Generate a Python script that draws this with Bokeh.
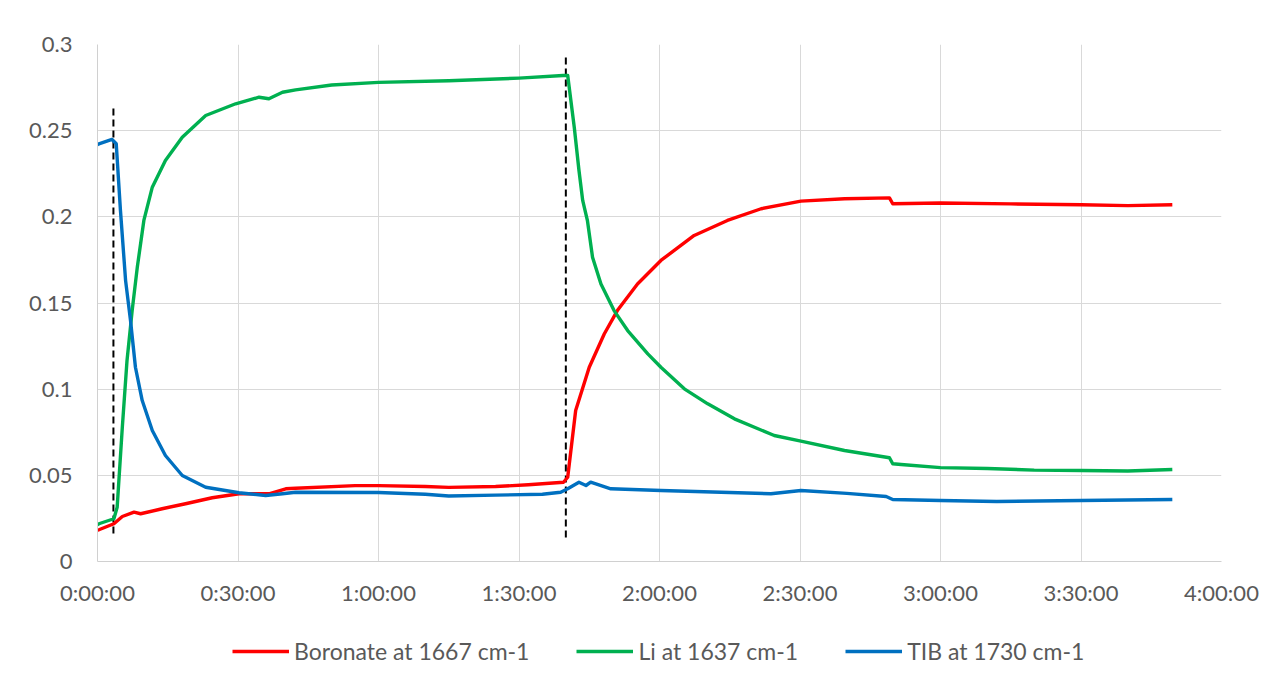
from bokeh.plotting import figure
from bokeh.layouts import column
from bokeh.models import FixedTicker, Legend, LegendItem, Range1d
from bokeh.embed import file_html
from bokeh.resources import INLINE

# ---- data (time in minutes) ----
boronate_t = [0, 0.3, 3.5, 5.3, 7.8, 9.2, 13.8, 18.8, 24.5, 30.2, 36.6, 40.2, 42.3, 55, 60,
              70, 75, 85, 92, 99.5, 100.4, 102.1, 105.0, 108.2, 111.0, 115.3, 120.3,
              127.4, 134.5, 141.7, 150.2, 159.5, 169.1, 169.8, 180, 195, 210, 220, 229.5]
boronate_v = [0.0182, 0.0184, 0.0219, 0.0261, 0.0286, 0.0277, 0.0306, 0.0335, 0.037, 0.0393,
              0.0393, 0.0422, 0.0425, 0.044, 0.044, 0.0435, 0.043, 0.0435, 0.0445, 0.046,
              0.0489, 0.0876, 0.1127, 0.132, 0.1456, 0.161, 0.1747, 0.1892, 0.1979, 0.2047,
              0.2091, 0.2105, 0.211, 0.2076, 0.208, 0.2075, 0.207, 0.2065, 0.207]

li_t = [0, 0.3, 3.5, 4.2, 5.3, 6.3, 7.4, 8.5, 9.9, 11.7, 14.5, 18.1, 23.1, 29.5, 34.5,
        36.6, 39.5, 42.3, 50, 60, 75, 90, 99.4, 100.4, 101.8, 102.8, 103.6, 104.6,
        105.7, 107.5, 110.3, 113.2, 117.5, 120.3, 125.3, 130.3, 136.0, 144.5, 150.2,
        159.5, 169.1, 169.8, 171.6, 180, 190, 200, 210, 220, 229.5]
li_v = [0.0212, 0.0219, 0.0248, 0.0315, 0.0779, 0.1166, 0.1456, 0.1708, 0.1979, 0.2172,
        0.2327, 0.2462, 0.2588, 0.2656, 0.2694, 0.2685, 0.2723, 0.2737, 0.2765, 0.278,
        0.279, 0.2805, 0.282, 0.282, 0.252, 0.227, 0.2095, 0.198, 0.1766, 0.161, 0.1456,
        0.134, 0.1205, 0.1127, 0.1002, 0.0915, 0.0828, 0.0731, 0.0698, 0.0644, 0.0602,
        0.0567, 0.0563, 0.0545, 0.054, 0.053, 0.0528, 0.0525, 0.0534]

tib_t = [0, 0.3, 3.1, 4.0, 4.9, 6.0, 7.05, 8.1, 9.55, 11.7, 14.5, 18.1, 23.1, 30.2, 35.9,
         39.5, 42.3, 60, 70, 75, 85, 95, 98.9, 100.4, 102.8, 104.3, 105.3, 109.6, 120.3,
         143.8, 150.2, 160, 168.4, 169.8, 180, 192, 210, 229.5]
tib_v = [0.2418, 0.2424, 0.2449, 0.2424, 0.2037, 0.163, 0.1398, 0.1127, 0.0934, 0.076,
         0.0615, 0.0499, 0.0431, 0.0399, 0.0383, 0.0393, 0.0402, 0.040, 0.039, 0.038,
         0.0385, 0.039, 0.0402, 0.0422, 0.046, 0.0441, 0.046, 0.0422, 0.0412, 0.0393,
         0.0412, 0.0395, 0.0377, 0.036, 0.0354, 0.0348, 0.0354, 0.036]

dash_x = [3.4, 100]
dash_y0 = [0.0162, 0.0139]
dash_y1 = [0.2646, 0.2948]

x_ticks = [0, 30, 60, 90, 120, 150, 180, 210, 240]
x_tick_labels = ["0:00:00", "0:30:00", "1:00:00", "1:30:00", "2:00:00",
                 "2:30:00", "3:00:00", "3:30:00", "4:00:00"]
y_ticks = [0, 0.05, 0.1, 0.15, 0.2, 0.25, 0.3]
y_tick_labels = ["0", "0.05", "0.1", "0.15", "0.2", "0.25", "0.3"]

series_names = ["Boronate at 1667 cm-1", "Li at 1637 cm-1", "TIB at 1730 cm-1"]
series_colors = ["#FF0000", "#00B050", "#0070C0"]
series_data = [(boronate_t, boronate_v), (li_t, li_v), (tib_t, tib_v)]

FONT = "Lato"
GREY = "#595959"

# ---- main chart ----
p = figure(width=1266, height=610, output_backend="svg", toolbar_location=None,
           x_range=Range1d(0, 240), y_range=Range1d(0, 0.3),
           min_border_left=97, min_border_right=45, min_border_top=44,
           min_border_bottom=49)
p.outline_line_color = None
p.background_fill_color = "white"
p.border_fill_color = "white"

for ax, ticks, labels in ((p.xaxis, x_ticks, x_tick_labels), (p.yaxis, y_ticks, y_tick_labels)):
    ax.ticker = FixedTicker(ticks=ticks)
    ax.major_label_overrides = {t: l for t, l in zip(ticks, labels)}
    ax.major_tick_line_color = None
    ax.minor_tick_line_color = None
    ax.axis_line_color = "#d0d0d0"
    ax.major_label_text_font = FONT
    ax.major_label_text_font_size = "22px"
    ax.major_label_text_color = GREY
p.yaxis.major_label_standoff = 19
p.xaxis.major_label_standoff = 11

p.xgrid.ticker = FixedTicker(ticks=x_ticks)
p.ygrid.ticker = FixedTicker(ticks=y_ticks)
p.grid.grid_line_color = "#d9d9d9"
p.grid.grid_line_width = 1

p.segment(x0=dash_x, y0=dash_y0, x1=dash_x, y1=dash_y1, line_color="black",
          line_width=2, line_dash="7 4")

for (t, v), c in zip(series_data, series_colors):
    p.line(t, v, line_color=c, line_width=3.4, line_join="round")

# ---- legend strip (same series, plotted outside its visible range) ----
p2 = figure(width=1266, height=58, output_backend="svg", toolbar_location=None,
            x_range=Range1d(1000, 1001), y_range=Range1d(0, 1),
            x_axis_type=None, y_axis_type=None,
            min_border_left=0, min_border_right=0, min_border_top=0, min_border_bottom=0)
p2.outline_line_color = None
p2.grid.visible = False
leg_renderers = []
for (t, v), c in zip(series_data, series_colors):
    leg_renderers.append(p2.line(t, v, line_color=c, line_width=3.4))

legend = Legend(items=[LegendItem(label=n, renderers=[r]) for n, r in zip(series_names, leg_renderers)],
                orientation="horizontal", location=(135, 3),
                glyph_width=57, label_standoff=5, spacing=47, padding=0, margin=0,
                border_line_color=None, background_fill_alpha=0,
                label_text_font=FONT, label_text_font_size="23px",
                label_text_color=GREY)
p2.add_layout(legend, "center")

layout = column(p, p2, spacing=0)
open("out.html", "w").write(file_html(layout, INLINE))
